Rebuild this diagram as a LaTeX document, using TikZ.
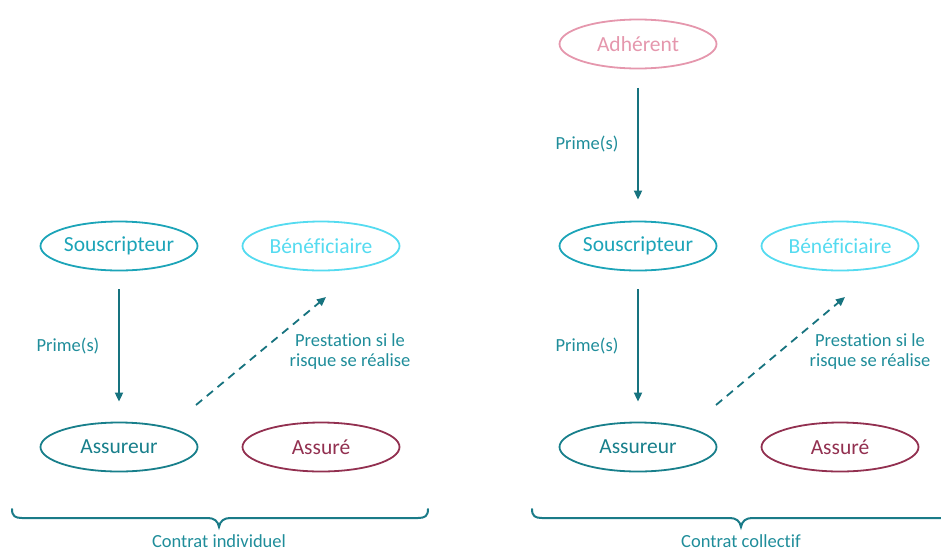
\documentclass[tikz,border=0pt]{standalone}
\usepackage{fontspec}
\setmainfont{Carlito}[RawFeature={-liga;-clig;-calt;-dlig}]
\usetikzlibrary{shapes.geometric,arrows.meta}

\definecolor{cSous}{HTML}{1CA4B8}
\definecolor{cBene}{HTML}{55DBF0}
\definecolor{cAssur}{HTML}{187F8B}
\definecolor{cAssure}{HTML}{923050}
\definecolor{cAdh}{HTML}{E597AD}
\definecolor{cArrow}{HTML}{17737F}
\definecolor{cLabel}{HTML}{1F8D9A}
\definecolor{cBrace}{HTML}{1A7B88}

\tikzset{
  role/.style={ellipse, draw=#1, text=#1, line width=1.8pt,
    minimum width=157pt, minimum height=49pt, inner sep=0pt,
    font=\fontsize{21.5}{25}\selectfont},
  flow/.style={draw=cArrow, line width=1.8pt,
    -{Triangle[length=9pt,width=8pt]}},
  payout/.style={flow, dash pattern=on 8pt off 6pt},
  lbl/.style={text=cLabel, font=\fontsize{18.5}{20}\selectfont,
    align=center, inner sep=0pt},
  bracecurve/.style={draw=cBrace, line width=2pt, line cap=round}
}

\begin{document}
\begin{tikzpicture}[x=1pt, y=-1pt]
  \useasboundingbox (0,0) rectangle (941,552);

  % ---- individual contract ----
  \node[role=cSous]   (s1) at (119,246) {Souscripteur};
  \node[role=cBene]   (b1) at (321,246) {Bénéficiaire};
  \node[role=cAssur]  (a1) at (119,447) {Assureur};
  \node[role=cAssure] (i1) at (321,447) {Assuré};

  \draw[flow] ([yshift=-18pt]s1.south) -- ([yshift=20pt]a1.north);
  \node[lbl] (p1) at (68,346) {Prime(s)};

  \coordinate (d1s) at (196,405);
  \coordinate (d1e) at (326,297);
  \draw[payout] (d1s) -- (d1e);
  \node[lbl] (r1) at (350,352) {Prestation si le\\risque se réalise};

  \draw[bracecurve] (12,509) .. controls (12,516) and (15,518) .. (22,518)
    -- (208,518) .. controls (214,518) and (218,521) .. (219,527)
    .. controls (220,521) and (224,518) .. (230,518)
    -- (418,518) .. controls (425,518) and (428,516) .. (428,509);
  \node[lbl] (c1) at (219,541) {Contrat individuel};

  % ---- group contract ----
  \node[role=cAdh]    (h2) at (638,44)  {Adhérent};
  \node[role=cSous]   (s2) at (638,246) {Souscripteur};
  \node[role=cBene]   (b2) at (840,246) {Bénéficiaire};
  \node[role=cAssur]  (a2) at (638,447) {Assureur};
  \node[role=cAssure] (i2) at (840,447) {Assuré};

  \draw[flow] ([yshift=-18.5pt]h2.south) -- ([yshift=21pt]s2.north);
  \node[lbl] (p2a) at (587,144) {Prime(s)};

  \draw[flow] ([yshift=-18pt]s2.south) -- ([yshift=20pt]a2.north);
  \node[lbl] (p2b) at (587,346) {Prime(s)};

  \coordinate (d2s) at (716,405);
  \coordinate (d2e) at (845,297);
  \draw[payout] (d2s) -- (d2e);
  \node[lbl] (r2) at (870,352) {Prestation si le\\risque se réalise};

  \draw[bracecurve] (532,509) .. controls (532,516) and (535,518) .. (542,518)
    -- (730,518) .. controls (736,518) and (740,521) .. (741,527)
    .. controls (742,521) and (746,518) .. (752,518)
    -- (941,518);
  \node[lbl] (c2) at (741,541) {Contrat collectif};
\end{tikzpicture}
\end{document}
